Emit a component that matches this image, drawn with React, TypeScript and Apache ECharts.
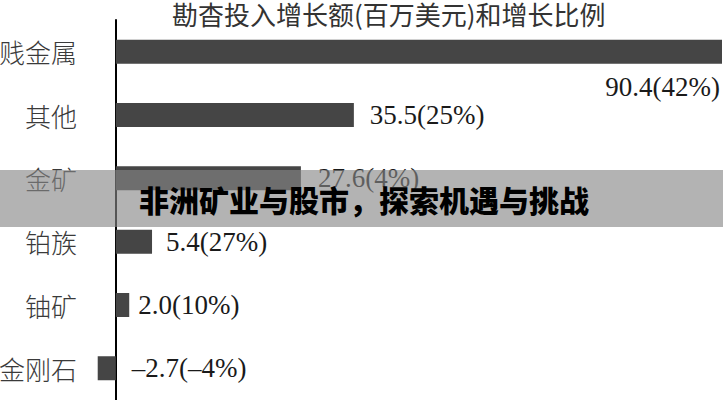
import React, { useEffect, useRef } from "react";
import * as echarts from "echarts";

const categories = ["贱金属", "其他", "金矿", "铂族", "铀矿", "金刚石"];
const growthValues = [90.4, 35.5, 27.6, 5.4, 2.0, -2.7];
const growthPercents = ["42%", "25%", "4%", "27%", "10%", "-4%"];
const labelDistances = [0, 16, 17, 14, 9, 16];
const titleText = "勘杳投入增长额(百万美元)和增长比例";
const bannerText = "非洲矿业与股市，探索机遇与挑战";

export default function App() {
  const ref = useRef<HTMLDivElement>(null);

  useEffect(() => {
    if (!ref.current) return;
    const chart = echarts.init(ref.current, undefined, { renderer: "svg" });

    const fmt = (v: number, p: string) => {
      const s = v < 0 ? "\u2013" + Math.abs(v).toFixed(1) : v.toFixed(1);
      const q = p.startsWith("-") ? "\u2013" + p.slice(1) : p;
      return `${s}(${q})`;
    };

    const data = growthValues.map((v, i) => {
      const text = fmt(v, growthPercents[i]);
      if (i === 0) {
        return {
          value: v,
          label: {
            show: true,
            position: ["100%", "100%"],
            align: "right",
            verticalAlign: "top",
            offset: [-2, 10],
            formatter: () => text,
          },
        };
      }
      return {
        value: v,
        label: {
          show: true,
          position: "right",
          distance: labelDistances[i],
          formatter: () => text,
        },
      };
    });

    chart.setOption({
      animation: false,
      backgroundColor: "#ffffff",
      title: {
        text: titleText,
        left: 172,
        top: 0,
        padding: 0,
        textStyle: {
          fontFamily: "Noto Sans CJK SC",
          fontSize: 26,
          fontWeight: "normal",
          color: "#333333",
        },
      },
      grid: {
        left: 89,
        right: 1,
        top: 20,
        bottom: 0,
        containLabel: false,
        outerBoundsMode: "none",
      },
      xAxis: {
        type: "value",
        min: -4,
        max: 90.4,
        show: false,
        splitLine: { show: false },
      },
      yAxis: {
        type: "category",
        data: categories,
        inverse: true,
        axisLine: { show: true, onZero: true, lineStyle: { color: "#000000", width: 2 } },
        axisTick: { show: false },
        axisLabel: {
          margin: 12,
          fontFamily: "Noto Sans CJK SC",
          fontSize: 26,
          fontWeight: 300,
          color: "#3a3a3a",
        },
        splitLine: { show: false },
      },
      series: [
        {
          type: "bar",
          data,
          barWidth: 24,
          clip: false,
          itemStyle: { color: "#454545" },
          label: {
            fontFamily: "Liberation Serif",
            fontSize: 27,
            color: "#1a1a1a",
          },
        },
      ],
      graphic: [
        {
          type: "rect",
          left: 0,
          top: 170,
          shape: { x: 0, y: 0, width: 723, height: 57 },
          style: { fill: "rgba(135,135,135,0.63)" },
          z: 100,
        },
        {
          type: "text",
          x: 139,
          y: 199,
          style: {
            text: bannerText,
            fontFamily: "Noto Sans CJK SC",
            fontSize: 30,
            fontWeight: 900,
            fill: "#000000",
            verticalAlign: "middle",
            align: "left",
          },
          z: 101,
        },
      ],
    });

    return () => chart.dispose();
  }, []);

  return (
    <div
      ref={ref}
      style={{ position: "fixed", left: 0, top: 0, width: 723, height: 400 }}
    />
  );
}
